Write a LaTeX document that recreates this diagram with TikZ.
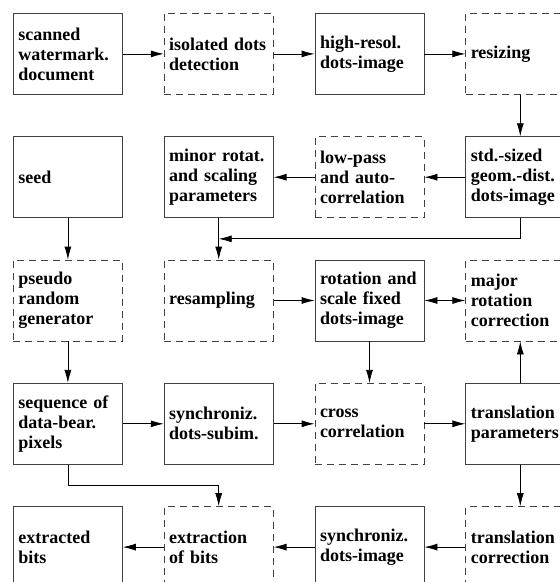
\documentclass[tikz,border=0pt]{standalone}
\usepackage{fontspec}
\setmainfont{Liberation Serif}
\usetikzlibrary{positioning,arrows.meta,calc}

\begin{document}
\begin{tikzpicture}[
		x=1pt,y=1pt,
		node distance=41.5pt and 41pt,
		blk/.style={draw=black!75,line width=0.8pt,minimum width=109pt,minimum height=81pt,text width=99pt,inner xsep=5pt,align=left,font=\bfseries\fontsize{18}{20}\selectfont},
		dblk/.style={blk,dash pattern=on 7pt off 5pt},
		arr/.style={-{Latex[length=13pt,width=7pt]},line width=0.8pt},
		darr/.style={{Latex[length=13pt,width=7pt]}-{Latex[length=13pt,width=7pt]},line width=0.8pt}
		]
		\useasboundingbox (0,0) rectangle (560,-582);
		\clip (0,0) rectangle (560,-582);
		% row 1
		\node[blk,anchor=north west] (scan) at (13,-13) {scanned\\watermark.\\document};
		\node[dblk,right=of scan] (isol) {isolated dots\\detection};
		\node[blk,right=of isol] (hires) {high-resol.\\dots-image};
		\node[dblk,right=of hires] (resiz) {resizing};
		% row 2
		\node[blk,below=of scan] (seed) {seed};
		\node[blk,right=of seed] (minor) {minor rotat.\\and scaling\\parameters};
		\node[dblk,right=of minor] (lowpass) {low-pass\\and auto-\\correlation};
		\node[blk,right=of lowpass] (std) {std.-sized\\geom.-dist.\\dots-image};
		% row 3
		\node[dblk,below=of seed] (pseudo) {pseudo\\random\\generator};
		\node[dblk,right=of pseudo] (resamp) {resampling};
		\node[blk,right=of resamp] (rotsc) {rotation and\\scale fixed\\dots-image};
		\node[dblk,right=of rotsc] (major) {major\\rotation\\correction};
		% row 4
		\node[blk,below=of pseudo] (seq) {sequence of\\data-bear.\\pixels};
		\node[blk,right=of seq] (syncsub) {synchroniz.\\dots-subim.};
		\node[dblk,right=of syncsub] (cross) {cross\\correlation};
		\node[blk,right=of cross] (transpar) {translation\\parameters};
		% row 5
		\node[blk,below=of seq] (extbits) {extracted\\bits};
		\node[dblk,right=of extbits] (extr) {extraction\\of bits};
		\node[blk,right=of extr] (syncimg) {synchroniz.\\dots-image};
		\node[dblk,right=of syncimg] (transcor) {translation\\correction};

		\coordinate (join1) at ($(minor.south)!0.5!(resamp.north)$);
		\coordinate (join2) at ($(extr.north)!0.5!(extr.north |- seq.south)$);

		\draw[arr] (scan) -- (isol);
		\draw[arr] (isol) -- (hires);
		\draw[arr] (hires) -- (resiz);
		\draw[arr] (resiz) -- (std);
		\draw[arr] (std) -- (lowpass);
		\draw[arr] (lowpass) -- (minor);
		\draw[arr] (std.south) |- (join1);
		\draw[arr] (minor) -- (resamp);
		\draw[arr] (seed) -- (pseudo);
		\draw[arr] (pseudo) -- (seq);
		\draw[arr] (resamp) -- (rotsc);
		\draw[darr] (rotsc) -- (major);
		\draw[arr] (rotsc) -- (cross);
		\draw[arr] (transpar) -- (major);
		\draw[arr] (seq) -- (syncsub);
		\draw[arr] (syncsub) -- (cross);
		\draw[arr] (cross) -- (transpar);
		\draw[arr] (transpar) -- (transcor);
		\draw[arr] (seq.south) |- (join2) -- (extr.north);
		\draw[arr] (transcor) -- (syncimg);
		\draw[arr] (syncimg) -- (extr);
		\draw[arr] (extr) -- (extbits);
	\end{tikzpicture}
\end{document}
